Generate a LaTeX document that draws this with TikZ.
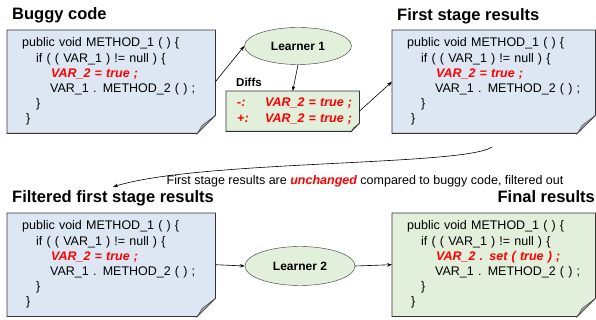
\documentclass[tikz,border=0pt]{standalone}
\usepackage{fontspec}
\setmainfont{Liberation Sans}
\usetikzlibrary{shapes.geometric,arrows.meta,backgrounds}
\definecolor{docblue}{HTML}{DDE7F4}
\definecolor{docgreen}{HTML}{E2EFDA}
\definecolor{codered}{HTML}{FF0000}
\newcommand{\hl}[1]{\textcolor{codered}{\bfseries\itshape #1}}
\newcommand{\snippet}[1]{public void METHOD\_1 ( ) \{\\
\hspace*{14pt}if ( ( VAR\_1 ) != null ) \{\\
\hspace*{29pt}\hl{#1}\\
\hspace*{28pt}VAR\_1 . METHOD\_2 ( ) ;\\
\hspace*{14pt}\}\\
\hspace*{4pt}\}}

\begin{document}
\begin{tikzpicture}
	[x=1pt,y=-1pt,
	every node/.style={inner sep=0pt},
	doctitle/.style={anchor=base west,font=\fontsize{16.5}{18}\selectfont\bfseries},
	codebox/.style={anchor=north west,align=left,text width=#1,inner xsep=15pt,minimum height=103pt,font=\fontsize{12.5}{15.2}\selectfont},
	learner/.style={ellipse,draw=black!80,fill=docgreen,minimum width=107pt,minimum height=37pt,font=\fontsize{12}{14}\selectfont\bfseries},
	arrow/.style={-{Stealth[length=5pt,width=3.5pt]},line width=0.6pt}]
	\useasboundingbox (0,0) rectangle (596,320);
	% titles
	\node (bugtitle) [doctitle] at (12,20) {Buggy code};
	\node (firsttitle) [doctitle] at (397,21) {First stage results};
	\node (filtitle) [doctitle] at (12,203) {Filtered first stage results};
	\node (fintitle) [doctitle,anchor=base east] at (595,203) {Final results};
	% code boxes
	\node (buggy) [codebox=178pt] at (7,30) {\snippet{VAR\_2 = true ;}};
	\node (first) [codebox=173pt] at (392,30) {\snippet{VAR\_2 = true ;}};
	\node (filtered) [codebox=178pt] at (7,213) {\snippet{VAR\_2 = true ;}};
	\node (final) [codebox=173pt] at (392,213) {\snippet{VAR\_2 . set ( true ) ;}};
	% learners and diffs
	\node (learner1) [learner] at (298,46) {Learner 1};
	\node (learner2) [learner,minimum width=110pt,minimum height=39pt] at (300,266) {Learner 2};
	\node (diffslabel) [anchor=base west,font=\fontsize{11.5}{13}\selectfont\bfseries] at (236,87) {Diffs};
	\node (diffs) [anchor=north west,align=left,text width=125pt,inner xsep=4pt,minimum height=40pt,
		font=\fontsize{12.5}{15.2}\selectfont] at (226,91)
		{\hspace*{7pt}\hl{\makebox[28pt][l]{-:}VAR\_2 = true ;}\\ \hspace*{7pt}\hl{\makebox[28pt][l]{+:}VAR\_2 = true ;}};
	\node (note) [font=\fontsize{12.5}{14}\selectfont] at (365,181)
		{First stage results are \hl{unchanged} compared to buggy code, filtered out};
	\coordinate (curvestart) at (492,147);
	% paper shapes with folded corner
	\begin{scope}[on background layer]
		\foreach \n/\c/\f in {buggy/docblue/18, first/docblue/18, filtered/docblue/18, final/docgreen/18, diffs/docgreen/8}{
			\filldraw[fill=\c,draw=black!80,line width=0.8pt] (\n.north west) -- (\n.north east) -- ([yshift=\f pt]\n.south east)
				-- ([xshift=-\f pt]\n.south east) -- (\n.south west) -- cycle;
			\filldraw[fill=gray!70,draw=black!70,line width=0.5pt] ([xshift=-\f pt]\n.south east)
				-- ([xshift=-0.74*\f pt,yshift=0.44*\f pt]\n.south east) -- ([yshift=\f pt]\n.south east) -- cycle;
		}
	\end{scope}
	% connectors
	\draw [arrow] (buggy.east) -- (learner1.west);
	\draw [arrow] (learner1.south) -- (diffs.north);
	\draw [arrow] (diffs.east) -- (first.west);
	\draw [arrow] (curvestart) .. controls (465,166) and (200,160) .. ([yshift=4pt]filtitle.north);
	\draw [arrow] (filtered.east) -- (learner2.west);
	\draw [arrow] (learner2.east) -- (final.west);
\end{tikzpicture}
\end{document}
